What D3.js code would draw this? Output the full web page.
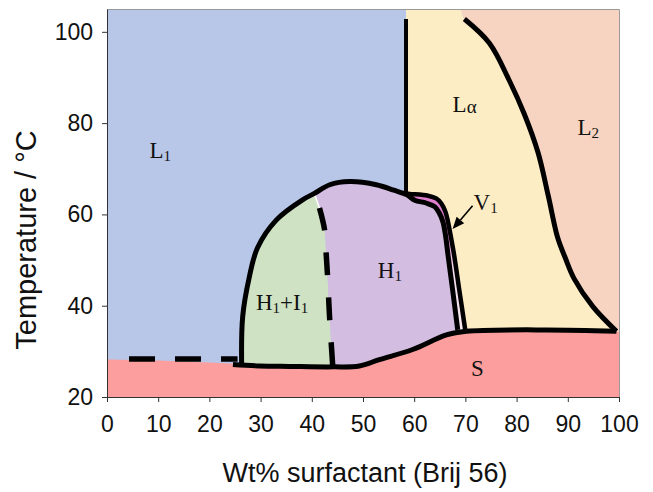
<!DOCTYPE html>
<html lang="en">
<head>
  <meta charset="UTF-8">
  <title>Phase diagram</title>
  <style>
    body { margin: 0; background: #fff; }
    .tick text { font-family: "Liberation Sans", Arial, sans-serif; font-size: 23px; fill: #111; }
    .tick line, .domain { stroke: #333; }
    .phase { font-family: "Liberation Serif", "Times New Roman", serif; font-size: 23px; fill: #111; }
  </style>
</head>
<body>
<div id="chart"></div>

<script src="https://cdn.jsdelivr.net/npm/d3@7"></script>
<script>
  // axis ticks
  const xTicks = [0, 10, 20, 30, 40, 50, 60, 70, 80, 90, 100];
  const yTicks = [20, 40, 60, 80, 100];

  // phase boundaries, [wt% surfactant, temperature]
  const sLine = [[24.6, 27.1], [29.8, 26.8], [35.6, 26.7], [44.1, 26.6], [49.3, 26.8], [53.2, 28.2],
    [59.7, 30.4], [66.3, 33.6], [70.2, 34.4], [85.8, 34.7], [99.5, 34.4]];
  const sLeft = [[0, 28.2], [12, 27.9], [24.6, 27.3]];
  const hTop = [[26.3, 26.9], [26.5, 37.6], [27.8, 46.3], [29.4, 52.7], [33.1, 58.8], [38.2, 63.2],
    [40.5, 64.6], [43.5, 66.5], [47.4, 67.2], [52.6, 66.5], [56.0, 65.3], [58.6, 64.3]];
  const v1Inner = [[60.1, 63.1], [62.3, 62.5], [64.0, 61.7], [64.9, 60.3], [65.6, 58.4], [66.1, 55.5],
    [66.6, 51.1], [67.5, 43.5], [68.5, 34.7]];
  const v1Outer = [[58.5, 64.6], [59.1, 64.5], [62.7, 64.1], [64.3, 63.5], [65.3, 62.4], [66.1, 60.6],
    [66.6, 58.4], [67.1, 55.5], [67.8, 51.1], [68.8, 43.5], [70.0, 34.5]];
  const hDash = [[41.5, 61.4], [42.5, 56.6], [42.8, 51.5], [43.1, 46.0], [43.5, 36.9], [44.1, 26.6]];
  const lDash = [[4.3, 28.3], [25.5, 28.3]];
  const laWall = [[58.4, 102.8], [58.4, 64.8]];
  const laL2 = [[69.8, 102.8], [74.7, 97.5], [78.5, 89.5], [81.5, 82.0], [84.2, 73.5], [86.2, 64.0],
    [88.0, 55.0], [89.5, 50.5], [91.2, 46.0], [94.9, 39.8], [99.5, 34.4]];
  const v1Arrow = [[71.4, 61.9], [67.5, 56.8]];

  const hBoundary = hTop.concat(v1Inner);

  // phase names: [main, subscript, x, T]
  const phaseLabels = [
    ['L', '1', 8.3, 72.3],
    ['L', '', 67.5, 82.5],
    ['L', '2', 91.9, 77.4],
    ['V', '1', 71.6, 61.0],
    ['H', '1', 52.9, 46.0],
    ['S', '', 71.1, 24.7]
  ];

  const margin = {top: 9, right: 34, bottom: 95, left: 107},
    width = 512,
    height = 388;

  const root = d3.select("#chart")
    .append("svg")
    .attr("width", 653)
    .attr("height", 492);
  const svg = root.append("g")
    .attr("transform", "translate(" + margin.left + "," + margin.top + ")");

  const x = d3.scaleLinear().domain([0, 100]).range([0, width]);
  const y = d3.scaleLinear().domain([20, 105]).range([height, 0]);

  const curvy = d3.line().x(d => x(d[0])).y(d => y(d[1])).curve(d3.curveCatmullRom);
  const straight = d3.line().x(d => x(d[0])).y(d => y(d[1]));

  // join several pieces into one closed outline
  function region(parts) {
    return parts.map(function (p, i) {
      const s = p.lin ? straight(p.lin) : curvy(p);
      return i ? s.replace(/^M/, "L") : s;
    }).join("") + "Z";
  }
  const rev = a => a.slice().reverse();

  const defs = root.append("defs");
  defs.append("clipPath").attr("id", "plot")
    .append("rect").attr("width", width).attr("height", height);
  const grad = defs.append("linearGradient").attr("id", "v1fill")
    .attr("gradientUnits", "userSpaceOnUse")
    .attr("x1", 0).attr("x2", 0).attr("y1", y(64.6)).attr("y2", y(34.5));
  grad.append("stop").attr("offset", "0%").attr("stop-color", "#e07fcf");
  grad.append("stop").attr("offset", "30%").attr("stop-color", "#e07fcf");
  grad.append("stop").attr("offset", "55%").attr("stop-color", "#f2dcec");
  grad.append("stop").attr("offset", "100%").attr("stop-color", "#f6e8ee");

  const area = svg.append("g").attr("clip-path", "url(#plot)");

  // L1 background
  area.append("rect")
    .attr("x", x(0)).attr("y", y(105))
    .attr("width", x(100) - x(0)).attr("height", y(20) - y(105))
    .attr("fill", "#b8c7e8");

  // L alpha
  area.append("path")
    .attr("d", region([
      {lin: [[58.4, 105], [69.2, 105]]},
      [[69.2, 105]].concat(laL2),
      rev(sLine.slice(8)),
      rev(v1Outer),
      {lin: [[58.5, 64.6], laWall[1], [58.4, 105]]}
    ]))
    .attr("fill", "#fdedc4");

  // L2
  area.append("path")
    .attr("d", region([
      {lin: [[69.2, 105], [100, 105], [100, 34.2], laL2[laL2.length - 1]]},
      rev([[69.2, 105]].concat(laL2))
    ]))
    .attr("fill", "#f7d4c2");

  // S
  area.append("path")
    .attr("d", region([
      sLeft.concat(sLine.slice(1)),
      {lin: [sLine[sLine.length - 1], [100, 34.2], [100, 20], [0, 20]]}
    ]))
    .attr("fill", "#fc9e9e");

  // H1 + I1
  area.append("path")
    .attr("d", region([
      hTop.slice(0, 7),
      {lin: [hTop[6], hDash[0]]},
      hDash,
      rev(sLine.slice(0, 4))
    ]))
    .attr("fill", "#cfe3c4");

  // H1
  area.append("path")
    .attr("d", region([
      hBoundary.slice(6),
      {lin: [hBoundary[hBoundary.length - 1], sLine[7]]},
      rev(sLine.slice(3, 8)),
      rev(hDash),
      {lin: [hDash[0], hTop[6]]}
    ]))
    .attr("fill", "#d3bde1");

  // V1
  area.append("path")
    .attr("d", region([v1Outer, rev([v1Outer[0]].concat(v1Inner))]))
    .attr("fill", "url(#v1fill)");

  // thin white gap between H1+I1 and H1
  area.append("path")
    .attr("d", straight([hTop[6], hDash[0]]))
    .attr("stroke", "#fff").attr("stroke-width", 1.5).attr("fill", "none");

  // boundary lines
  const solid = [[sLine, 5], [hBoundary, 5], [v1Outer, 4.5], [laL2, 5], [laWall, 4]];
  solid.forEach(function (d) {
    area.append("path")
      .attr("d", curvy(d[0]))
      .attr("fill", "none")
      .attr("stroke", "#000")
      .attr("stroke-width", d[1])
      .attr("stroke-linejoin", "round");
  });

  area.append("path")
    .attr("d", curvy(hDash))
    .attr("fill", "none").attr("stroke", "#000")
    .attr("stroke-width", 5.5).attr("stroke-dasharray", "23,22");

  area.append("path")
    .attr("d", straight(lDash))
    .attr("fill", "none").attr("stroke", "#000")
    .attr("stroke-width", 5.5).attr("stroke-dasharray", "26,20");

  // arrow to V1
  const a0 = [x(v1Arrow[0][0]), y(v1Arrow[0][1])], a1 = [x(v1Arrow[1][0]), y(v1Arrow[1][1])];
  const ang = Math.atan2(a1[1] - a0[1], a1[0] - a0[0]);
  const hl = 12, hw = 5;
  const bx = a1[0] - hl * Math.cos(ang), by = a1[1] - hl * Math.sin(ang);
  area.append("line")
    .attr("x1", a0[0]).attr("y1", a0[1]).attr("x2", bx).attr("y2", by)
    .attr("stroke", "#000").attr("stroke-width", 1.6);
  area.append("path")
    .attr("d", "M" + a1 + "L" + [bx + hw * Math.sin(ang), by - hw * Math.cos(ang)] +
      "L" + [bx - hw * Math.sin(ang), by + hw * Math.cos(ang)] + "Z")
    .attr("fill", "#000");

  // frame on top and right
  svg.append("path")
    .attr("d", "M0.5,0.5H" + (width + 0.5) + "V" + height)
    .attr("fill", "none").attr("stroke", "#999");

  // phase labels
  phaseLabels.forEach(function (d, i) {
    const t = svg.append("text").attr("class", "phase")
      .attr("x", x(d[2])).attr("y", y(d[3]));
    t.append("tspan").text(d[0]);
    if (i === 1) t.append("tspan").attr("font-size", "19px").attr("dy", 1).text("\u03b1");
    if (d[1]) t.append("tspan").attr("font-size", "15px").attr("dy", 3).text(d[1]);
  });
  const hi = svg.append("text").attr("class", "phase").attr("x", x(29.1)).attr("y", y(39.1));
  hi.append("tspan").text("H");
  hi.append("tspan").attr("font-size", "15px").attr("dy", 3).text("1");
  hi.append("tspan").attr("dy", -3).text("+I");
  hi.append("tspan").attr("font-size", "15px").attr("dy", 3).text("1");

  // axes
  svg.append("g")
    .attr("transform", "translate(0," + height + ")")
    .call(d3.axisBottom(x).tickValues(xTicks).tickSize(5).tickPadding(14).tickSizeOuter(0));

  svg.append("g")
    .call(d3.axisLeft(y).tickValues(yTicks).tickSize(5).tickPadding(9).tickSizeOuter(0));

  svg.append("text")
    .attr("x", 258).attr("y", 473)
    .attr("text-anchor", "middle")
    .style("font-family", "Liberation Sans, Arial, sans-serif")
    .style("font-size", "27px")
    .style("fill", "#111")
    .text("Wt% surfactant (Brij 56)");

  svg.append("text")
    .attr("transform", "translate(-71,231)rotate(-90)")
    .attr("text-anchor", "middle")
    .style("font-family", "Liberation Sans, Arial, sans-serif")
    .style("font-size", "29px")
    .style("fill", "#111")
    .text("Temperature / \u00b0C");
</script>
</body>
</html>
